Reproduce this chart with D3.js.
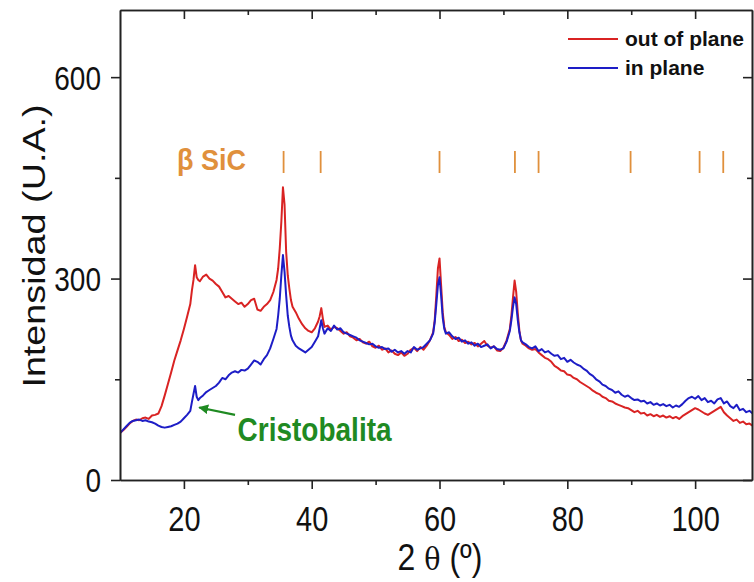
<!DOCTYPE html>
<html><head><meta charset="utf-8">
<script src="https://cdn.jsdelivr.net/npm/d3@7"></script>
<style>html,body{margin:0;padding:0;background:#fff;} svg{display:block;}</style>
</head><body>
<svg id="chart" width="754" height="582"></svg>
<script>
// ---- data ----
const twoTheta = [
 10,10.5,11,11.5,12,12.5,13,13.5,14,14.5,15,15.5,16,16.5,17,17.5,18,18.5,19,19.5,20,20.5,21,
 21.25,21.5,21.75,22,22.25,22.5,
 23,23.5,24,24.5,25,25.5,26,26.5,27,27.5,28,28.5,29,29.5,30,30.5,31,31.5,32,32.5,33,33.5,34,
 34.5,34.75,35,35.25,35.5,35.75,36,36.25,36.5,36.75,37,
 37.5,38,38.5,39,39.5,40,40.5,
 41,41.25,41.5,41.75,42,
 42.5,43,43.5,44,44.5,45,45.5,46,46.5,47,47.5,48,48.5,49,49.5,50,50.5,51,51.5,52,52.5,53,53.5,54,54.5,55,55.5,56,56.5,57,57.5,58,58.5,
 59,59.25,59.5,59.75,60,60.25,60.5,60.75,61,
 61.5,62,62.5,63,63.5,64,64.5,65,65.5,66,66.5,67,67.5,68,68.5,69,69.5,70,70.5,
 71,71.25,71.5,71.75,72,72.25,72.5,72.75,73,
 73.5,74,74.5,75,75.5,76,76.5,77,77.5,78,78.5,79,79.5,80,80.5,81,81.5,82,82.5,83,83.5,84,84.5,85,85.5,86,86.5,87,87.5,88,88.5,89,89.5,90,
 90.5,91,91.5,92,92.5,93,93.5,94,94.5,95,95.5,96,96.5,97,97.5,98,98.5,99,99.5,100,100.5,101,101.5,102,102.5,103,103.5,104,104.5,105,105.5,106,106.5,107,107.5,108,108.5,109
];
const outOfPlane = [
 70,74,79,84,88,90,89,92,93,91,96,97,99,110,126,143,160,178,193,208,225,243,262,
 282,298,320,302,298,296,
 303,306,300,297,292,288,280,272,274,270,266,262,264,258,262,268,270,254,252,258,262,268,280,
 298,315,345,385,436,410,340,305,285,268,258,
 250,240,232,226,222,220,226,
 236,244,256,240,228,
 230,224,228,226,222,218,220,214,212,208,210,205,203,206,199,197,200,194,196,190,193,188,186,190,185,188,194,197,192,198,194,200,208,
 220,238,275,315,330,290,250,228,220,
 216,210,213,207,209,204,206,202,204,199,203,207,200,197,199,193,192,197,208,
 225,245,272,297,280,248,222,208,203,
 200,196,194,195,190,186,182,180,176,170,167,163,162,157,156,152,150,146,143,140,137,133,130,128,124,122,118,117,114,112,110,108,107,104,
 101,103,99,100,96,98,95,97,94,96,93,95,92,94,91,95,98,101,104,107,105,102,99,97,100,103,106,109,101,96,92,88,90,85,87,83,84,81
];
const inPlane = [
 70,75,80,85,88,89,90,88,89,87,86,84,81,79,78,79,80,82,84,87,92,97,103,
 116,128,140,124,119,122,
 126,131,134,137,140,145,152,150,156,160,162,160,164,163,166,172,178,176,172,180,186,196,210,
 225,245,270,305,335,310,275,245,228,215,208,
 200,196,193,190,194,198,206,
 214,226,238,226,218,
 226,222,230,224,226,220,218,216,214,212,208,206,204,202,203,199,197,198,195,196,191,194,190,192,188,192,190,198,194,196,198,203,208,
 218,235,262,290,302,275,242,225,218,
 220,214,210,212,206,208,203,205,200,203,198,200,202,196,199,195,194,196,206,
 222,238,258,272,262,238,220,208,205,
 202,198,196,199,192,195,190,192,188,185,186,180,182,176,179,175,172,170,166,163,158,155,150,147,142,140,136,134,130,132,127,124,126,122,
 119,120,117,118,114,116,112,114,111,113,110,112,108,111,109,113,118,122,124,121,125,119,122,116,118,114,120,122,114,117,110,107,112,104,106,101,103,99
];
const seriesNames = ["out of plane", "in plane"];
const sicPeaks = [35.6, 41.4, 60.0, 71.8, 75.5, 89.9, 100.7, 104.4];
const xMajorTicks = [20, 40, 60, 80, 100];
const xMinorTicks = [30, 50, 70, 90];
const yMajorTicks = [0, 300, 600];
const yMinorTicks = [150, 450];

// ---- layout ----
const svg = d3.select("#chart");
const FONT = "'Liberation Sans', Arial, Helvetica, sans-serif";
const STRETCH = 1.18; // the original figure is slightly taller than wide
const pLeft = 120, pRight = 752, pTop = 10, pBottom = 480;
const x = d3.scaleLinear().domain([10, 108.9]).range([pLeft, pRight]);
const y = d3.scaleLinear().domain([0, 700]).range([pBottom, pTop]);
const colors = {"out of plane": "#d92323", "in plane": "#1d1dc6"};
const axisColor = "#222";

const defs = svg.append("defs");
defs.append("clipPath").attr("id", "plotclip")
  .append("rect").attr("x", pLeft).attr("y", pTop).attr("width", pRight - pLeft).attr("height", pBottom - pTop);
const mk = defs.append("marker").attr("id", "arrow")
  .attr("viewBox", "0 0 10 10").attr("refX", 9).attr("refY", 5)
  .attr("markerWidth", 4.5).attr("markerHeight", 4.5).attr("orient", "auto-start-reverse")
  .attr("markerUnits", "strokeWidth");
mk.append("path").attr("d", "M0,0 L10,5 L0,10 z").attr("fill", "#1f8a22");

// curves
const series = [
  {name: seriesNames[0], values: outOfPlane},
  {name: seriesNames[1], values: inPlane}
];
const line = d3.line().x((d, i) => x(twoTheta[i])).y(d => y(d));
svg.append("g").attr("clip-path", "url(#plotclip)")
  .selectAll("path").data(series).join("path")
  .attr("d", d => line(d.values))
  .attr("fill", "none")
  .attr("stroke", d => colors[d.name])
  .attr("stroke-width", 2)
  .attr("stroke-linejoin", "round");

// axes
function styleAxis(g) {
  g.select(".domain").attr("stroke", axisColor).attr("stroke-width", 1.6);
  g.selectAll(".tick line").attr("stroke", axisColor).attr("stroke-width", 1.6);
  g.selectAll(".tick text").attr("fill", "#111").attr("font-family", FONT);
}
svg.append("g").attr("transform", `translate(0,${pBottom})`)
  .call(d3.axisBottom(x).tickValues(xMinorTicks).tickSize(5).tickSizeOuter(0).tickFormat(""))
  .call(styleAxis);
svg.append("g").attr("transform", `translate(0,${pBottom})`)
  .call(d3.axisBottom(x).tickValues(xMajorTicks).tickSize(9).tickSizeOuter(0))
  .call(styleAxis)
  .call(g => g.selectAll(".tick text").attr("font-size", 29)
    .attr("y", null).attr("dy", null)
    .attr("transform", `translate(0,51) scale(1,${STRETCH})`));
svg.append("g").attr("transform", `translate(0,${pTop})`)
  .call(d3.axisTop(x).tickValues(xMinorTicks).tickSize(-5).tickSizeOuter(0).tickFormat(""))
  .call(styleAxis);
svg.append("g").attr("transform", `translate(0,${pTop})`)
  .call(d3.axisTop(x).tickValues(xMajorTicks).tickSize(-9).tickSizeOuter(0).tickFormat(""))
  .call(styleAxis);
svg.append("g").attr("transform", `translate(${pLeft},0)`)
  .call(d3.axisLeft(y).tickValues(yMinorTicks).tickSize(5).tickSizeOuter(0).tickFormat(""))
  .call(styleAxis);
svg.append("g").attr("transform", `translate(${pLeft},0)`)
  .call(d3.axisLeft(y).tickValues(yMajorTicks).tickSize(9).tickSizeOuter(0))
  .call(styleAxis)
  .call(g => g.selectAll(".tick text").attr("font-size", 28)
    .attr("x", null).attr("dy", "0.36em")
    .attr("transform", `translate(-19,0) scale(1,${STRETCH})`));
svg.append("g").attr("transform", `translate(${pRight},0)`)
  .call(d3.axisRight(y).tickValues(yMinorTicks).tickSize(-5).tickSizeOuter(0).tickFormat(""))
  .call(styleAxis);
svg.append("g").attr("transform", `translate(${pRight},0)`)
  .call(d3.axisRight(y).tickValues(yMajorTicks).tickSize(-9).tickSizeOuter(0).tickFormat(""))
  .call(styleAxis);

// axis titles
svg.append("text")
  .attr("transform", `translate(45,246) scale(1,${STRETCH}) rotate(-90)`)
  .attr("text-anchor", "middle").attr("font-family", FONT).attr("font-size", 32).attr("fill", "#111")
  .text("Intensidad (U.A.)");
const xt = svg.append("text")
  .attr("transform", `translate(440,570) scale(1,${STRETCH})`)
  .attr("text-anchor", "middle").attr("font-family", FONT).attr("font-size", 32).attr("fill", "#111");
xt.append("tspan").text("2 ");
xt.append("tspan").attr("font-family", "'DejaVu Serif', serif").attr("font-size", 27).text("θ");
xt.append("tspan").text(" (º)");

// beta SiC reference ticks
const sicColor = "#e0903c";
svg.append("g").selectAll("line").data(sicPeaks).join("line")
  .attr("x1", d => x(d)).attr("x2", d => x(d))
  .attr("y1", 151).attr("y2", 173)
  .attr("stroke", sicColor).attr("stroke-width", 1.8);
svg.append("text").attr("transform", "translate(177,170) scale(1,1.08)")
  .attr("font-family", FONT).attr("font-size", 27).attr("font-weight", "bold").attr("fill", sicColor)
  .text("β SiC");

// Cristobalita annotation
const crisArrowFrom = [28.0, 97], crisArrowTo = [22.4, 108];
svg.append("line")
  .attr("x1", x(crisArrowFrom[0])).attr("y1", y(crisArrowFrom[1]))
  .attr("x2", x(crisArrowTo[0])).attr("y2", y(crisArrowTo[1]))
  .attr("stroke", "#1f8a22").attr("stroke-width", 2.2).attr("marker-end", "url(#arrow)");
svg.append("text")
  .attr("transform", `translate(${x(28.4)},${y(58)}) scale(1,${STRETCH})`)
  .attr("font-family", FONT).attr("font-size", 28).attr("font-weight", "bold").attr("fill", "#1f8a22")
  .text("Cristobalita");

// legend
const legend = svg.append("g");
seriesNames.forEach((name, i) => {
  const ly = 39 + i * 29;
  legend.append("line").attr("x1", 568).attr("x2", 618).attr("y1", ly).attr("y2", ly)
    .attr("stroke", colors[name]).attr("stroke-width", 1.8);
  legend.append("text").attr("x", 625).attr("y", ly + 7)
    .attr("font-family", FONT).attr("font-size", 21).attr("font-weight", "bold").attr("fill", "#111")
    .text(name);
});
</script>
</body></html>
